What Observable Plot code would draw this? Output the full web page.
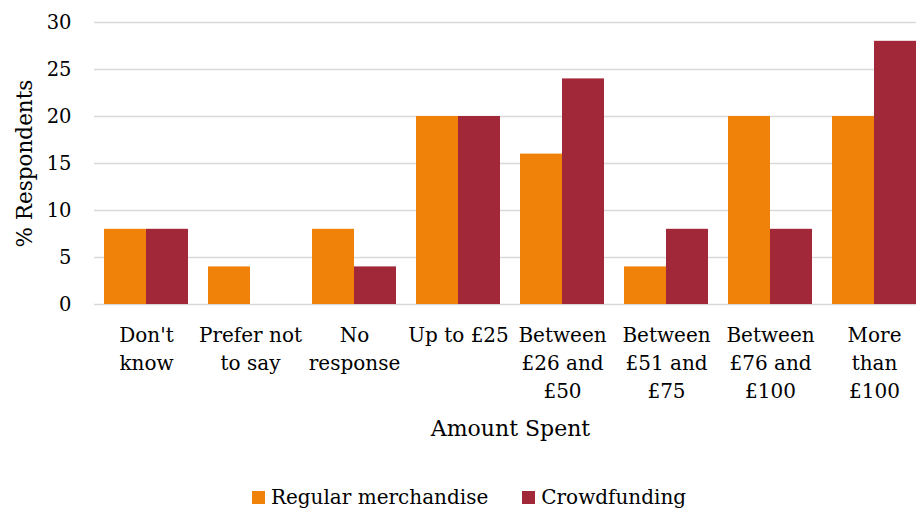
<!DOCTYPE html>
<html>
<head>
<meta charset="utf-8">
<script src="https://cdn.jsdelivr.net/npm/d3@7"></script>
<script src="https://cdn.jsdelivr.net/npm/@observablehq/plot@0.6"></script>
<style>
  html, body { margin: 0; padding: 0; background: #fff; }
  #chart svg { display: block; }
  .legend { display: flex; justify-content: center; align-items: center; padding-top: 15px; padding-left: 22px;
    font-family: "DejaVu Serif", serif; font-size: 20px; color: #000; line-height: 24px; }
  .legend .item { display: flex; align-items: center; margin: 0 17px; }
  .legend .sw { width: 13px; height: 13px; margin-right: 6px; display: inline-block; }
</style>
</head>
<body>
<div id="chart"></div>
<script>
const categories = ["Don't know", "Prefer not to say", "No response", "Up to £25", "Between £26 and £50", "Between £51 and £75", "Between £76 and £100", "More than £100"];
const tickLabels = ["Don't\nknow", "Prefer not\nto say", "No\nresponse", "Up to £25", "Between\n£26 and\n£50", "Between\n£51 and\n£75", "Between\n£76 and\n£100", "More\nthan\n£100"];
const series = ["Regular merchandise", "Crowdfunding"];
const regular = [8, 4, 8, 20, 16, 4, 20, 20];
const crowdfunding = [8, 0, 4, 20, 24, 8, 8, 28];
const colors = ["#F0820A", "#A12838"];
const yTicks = [0, 5, 10, 15, 20, 25, 30];

const regData = categories.map((c, i) => ({category: c, series: series[0], value: regular[i]}));
const crowdData = categories.map((c, i) => ({category: c, series: series[1], value: crowdfunding[i]}));

const font = "DejaVu Serif";
const chart = Plot.plot({
  width: 916,
  height: 470,
  marginLeft: 94,
  marginRight: 0,
  marginTop: 22,
  marginBottom: 166,
  style: {fontFamily: font, fontSize: "20px", color: "#000", background: "#fff"},
  x: {domain: categories, range: [94, 926], padding: 0, label: null},
  y: {domain: [0, 30], label: null},
  color: {domain: series, range: colors},
  marks: [
    Plot.ruleY(yTicks, {stroke: "#d9d9d9", strokeWidth: 1.5}),
    Plot.barY(regData.filter(d => d.value > 0), {x: "category", y: "value", fill: "series", insetLeft: 10, insetRight: 52}),
    Plot.barY(crowdData.filter(d => d.value > 0), {x: "category", y: "value", fill: "series", insetLeft: 52, insetRight: 10}),
    Plot.axisY({ticks: yTicks, tickSize: 0, tickPadding: 23, label: null, fontSize: 19.5, fill: "#000"}),
    Plot.axisX({tickSize: 0, tickPadding: 18, label: null, fontSize: 20, fill: "#000", lineHeight: 1.4,
      tickFormat: d => tickLabels[categories.indexOf(d)]}),
    Plot.text(["% Respondents"], {frameAnchor: "left", dx: -69, rotate: -90, fontSize: 21.5, fill: "#000", textAnchor: "middle"}),
    Plot.text(["Amount Spent"], {frameAnchor: "bottom", dx: 5, dy: 131, fontSize: 22, fill: "#000"})
  ]
});
document.getElementById("chart").appendChild(chart);

const legend = document.createElement("div");
legend.className = "legend";
series.forEach((s, i) => {
  const item = document.createElement("span");
  item.className = "item";
  const sw = document.createElement("span");
  sw.className = "sw";
  sw.style.background = colors[i];
  item.appendChild(sw);
  item.appendChild(document.createTextNode(s));
  legend.appendChild(item);
});
document.body.appendChild(legend);
</script>
</body>
</html>
